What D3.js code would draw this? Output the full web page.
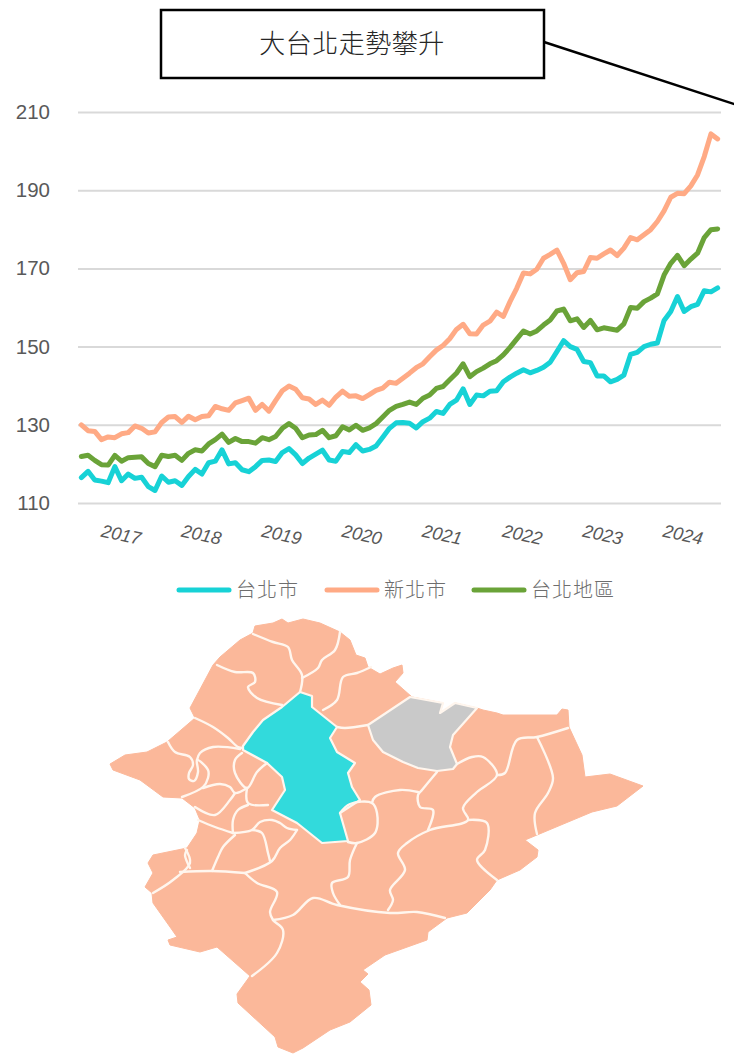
<!DOCTYPE html>
<html><head><meta charset="utf-8">
<script src="https://cdn.jsdelivr.net/npm/d3@7/dist/d3.min.js"></script>
<style>html,body{margin:0;padding:0;background:#fff}svg{display:block}</style></head><body>
<svg id="c" width="734" height="1054"></svg>
<script>
const years=["2017","2018","2019","2020","2021","2022","2023","2024"];
const months=d3.range(96);
const yTicks=[110,130,150,170,190,210];
const legendNames=["台北市","新北市","台北地區"];
const titleText="大台北走勢攀升";
const taipei=[116.5,118.1,115.9,115.6,115.2,119.3,115.7,117.4,116.3,116.6,114.2,113.2,116.9,115.3,115.7,114.5,116.8,118.6,117.4,120.3,120.7,123.6,120,120.3,118.5,118,119.3,120.9,121,120.6,122.9,123.9,122.3,120.1,121.5,122.5,123.5,121,120.7,123.2,122.9,124.9,123.3,123.7,124.6,126.8,129.1,130.5,
130.6,130.4,129.2,130.8,131.7,133.4,132.9,135.2,136.3,139.2,135.2,137.6,137.4,138.6,138.7,141,142.2,143.2,144.1,143.3,143.9,144.7,146,148.7,151.5,150,149.3,146.2,145.9,142.5,142.5,141,141.6,142.7,148,148.5,150,150.6,150.9,156.7,159,162.8,159,160.2,160.8,164.3,164,165];
const newTaipei=[130,128.5,128.3,126.2,126.9,126.7,127.7,128,129.7,129.1,127.9,128.2,130.6,132,132.1,130.6,132.2,131.3,132.1,132.3,134.7,134.1,133.7,135.6,136.2,136.8,133.7,135.2,133.5,136.2,138.7,139.9,139.1,136.9,136.6,135.2,136.3,135,137.1,138.6,137.3,137.4,136.7,137.7,138.8,139.4,140.9,140.6,
141.9,143.2,144.6,145.6,147.4,149.1,150.3,152,154.4,155.7,153.3,153.2,155.5,156.5,158.8,157.7,161.5,164.9,168.8,168.6,169.8,172.6,173.6,174.7,171.3,167.1,168.9,169.2,172.8,172.6,173.7,174.7,173.3,175.2,177.9,177.3,178.6,179.9,182,184.7,188.2,189.2,189.1,191.1,193.9,198.6,204.4,203.1];
const greater=[121.9,122.2,120.9,119.8,119.7,122.2,120.7,121.6,121.7,121.8,120.1,119.3,122.2,121.9,122.2,120.9,122.7,123.6,123.3,125.1,126.2,127.6,125.5,126.5,125.7,125.7,125.3,126.7,126.2,127,129.1,130.3,129.1,126.7,127.4,127.5,128.6,126.7,127.2,129.5,128.7,129.9,128.6,129.2,130.3,132,133.7,134.7,
135.2,135.8,135.2,136.8,137.6,139.3,139.8,141.5,143.2,145.6,142.3,143.6,144.5,145.6,146.4,147.9,149.8,151.9,154,153.2,154,155.5,156.8,159.1,159.6,156.6,157.1,154.9,156.7,154.3,154.8,154.5,154.2,155.8,160,159.8,161.5,162.4,163.5,168.3,171.3,173.3,170.7,172.4,173.9,177.9,179.9,180.1];
const seriesColors=["#17D2D6","#FFAA85","#6AA338"];

// map geometry, traced in picture units
const mapOutline=[[110,764],[125,755],[147,752],[167,742],[195,718],[190,708],[213,665],[220,657],[240,640],[253,633],[255,626],[273,623],[282,619],[288,623],[303,619],[320,623],[340,632],[350,640],[356,655],[365,658],[368,667],[380,674],[393,668],[402,665],[403,673],[395,682],[412,697],[443,703],[440,713],[455,703],[477,708],[483,710],[497,713],[503,715],[540,715],[557,715],[562,709],[568,710],[569,727],[582,755],[585,777],[610,774],[643,786],[617,806],[592,812],[537,835],[525,840],[538,850],[537,857],[520,870],[497,880],[490,890],[467,913],[447,918],[428,932],[427,940],[385,955],[363,970],[368,974],[360,982],[369,990],[371,1005],[350,1022],[330,1030],[303,1048],[293,1053],[278,1047],[275,1037],[238,1003],[237,994],[250,976],[217,947],[200,952],[170,945],[168,940],[177,937],[170,927],[153,903],[152,893],[145,887],[153,873],[148,863],[153,855],[187,848],[197,833],[200,820],[195,808],[182,798],[163,797],[140,780],[113,770]];
const mapTaipei=[[300,692],[312,696],[312,707],[337,727],[330,738],[337,752],[355,763],[348,773],[352,787],[360,800],[340,813],[348,841],[322,843],[297,823],[272,810],[285,790],[282,777],[267,763],[243,750],[243,746],[253,732],[263,720],[282,707]];
const mapKeelung=[[368,725],[410,697],[443,703],[440,713],[455,703],[477,708],[453,735],[450,747],[457,764],[453,769],[437,771],[418,768],[403,762],[383,752],[373,740]];
const mapBorders=[
[[253,634],[273,642],[288,647],[292,660],[302,675],[300,692]],
[[340,632],[335,650],[322,660],[318,668],[302,678]],
[[217,665],[235,672],[253,673],[255,682],[248,687],[257,698],[282,705]],
[[371,667],[357,673],[343,677],[337,700],[323,710]],
[[368,725],[345,728],[337,727]],
[[195,718],[213,727],[228,738],[238,747],[243,748]],
[[168,742],[175,752],[190,757],[193,765],[189,773],[189,779],[194,781],[198,772],[197,760],[208,770],[208,778],[203,787],[182,797]],
[[197,760],[200,753],[213,747],[240,749]],
[[242,753],[235,760],[235,773],[247,788],[257,772],[267,763]],
[[203,788],[220,784],[230,787],[235,793],[247,788]],
[[235,793],[230,800],[215,815],[195,807]],
[[247,788],[248,803],[268,805]],
[[248,805],[238,810],[233,820],[233,833]],
[[198,820],[215,827],[233,833]],
[[233,833],[252,830],[260,822],[272,820],[280,823],[287,828],[297,830]],
[[297,830],[290,840],[280,848],[272,861],[245,873]],
[[252,830],[262,833],[268,853],[270,861]],
[[235,835],[223,847],[218,857],[212,871]],
[[187,850],[185,855],[190,868]],
[[437,772],[422,790],[418,795],[420,807],[433,810],[428,830]],
[[418,792],[400,790],[375,797],[372,803]],
[[340,813],[350,804],[372,803],[377,813],[375,833],[357,843],[348,842]],
[[457,764],[472,757],[483,757],[497,775],[477,792],[463,808],[468,820],[430,830],[407,843],[398,853],[405,870],[390,890],[393,900],[388,910]],
[[497,775],[505,773],[517,740],[537,737],[568,728]],
[[537,737],[553,778],[548,793],[535,813],[537,834]],
[[468,820],[487,823],[485,850],[477,860],[497,880]],
[[185,848],[190,863],[173,880],[153,893]],
[[180,872],[212,871],[245,873]],
[[245,873],[257,883],[277,892],[270,912],[273,920],[283,930],[277,953],[252,976]],
[[273,920],[293,915],[313,898],[337,905],[390,913],[417,912],[445,918]],
[[357,843],[350,860],[348,877],[332,883],[333,893],[340,905]]
];

const svg=d3.select("#c");
const fontLatin="'Liberation Sans',Arial,sans-serif";
const fontCJK="'Liberation Sans','Noto Sans CJK TC',sans-serif";
const x=d3.scaleBand().domain(months).range([78,721]);
const y=d3.scaleLinear().domain([110,210]).range([503,112]);
const xc=i=>x(i)+x.bandwidth()/2;

// gridlines and y axis
const gy=svg.append("g").attr("transform","translate(78,0)")
  .call(d3.axisLeft(y).tickValues(yTicks).tickSize(-643).tickPadding(28).tickFormat(d3.format("d")));
gy.select(".domain").remove();
gy.selectAll(".tick line").attr("stroke","#D9D9D9").attr("stroke-width",2);
gy.selectAll(".tick text").attr("fill","#595959").attr("font-family",fontLatin).attr("font-size",20.5).attr("dy","0.32em");

// year labels
const xYears=d3.scaleBand().domain(years).range([81,723]);
const gx=svg.append("g").attr("transform","translate(0,535)").call(d3.axisBottom(xYears).tickSize(0).tickPadding(0));
gx.select(".domain").remove();
gx.selectAll(".tick text").attr("fill","#595959").attr("font-family",fontLatin).attr("font-size",18)
  .attr("font-style","italic").attr("y",0).attr("dy","0.32em").attr("transform","rotate(12)");

// series
const line=d3.line().x((d,i)=>xc(i)).y(d=>y(d));
[taipei,newTaipei,greater].forEach((s,i)=>{
  svg.append("path").datum(s).attr("d",line).attr("fill","none").attr("stroke",seriesColors[i])
   .attr("stroke-width",5).attr("stroke-linejoin","round").attr("stroke-linecap","round");
});

// legend
const legendX=[177,325,472];
legendNames.forEach((n,i)=>{
  svg.append("line").attr("x1",legendX[i]+2).attr("x2",legendX[i]+52).attr("y1",590).attr("y2",590)
    .attr("stroke",seriesColors[i]).attr("stroke-width",5).attr("stroke-linecap","round");
  svg.append("text").attr("x",legendX[i]+59).attr("y",597).attr("fill","#6E6E6E").attr("font-family",fontCJK)
    .attr("font-weight",300).attr("font-size",20).attr("letter-spacing",1).text(n);
});

// callout
svg.append("line").attr("x1",544).attr("y1",42).attr("x2",740).attr("y2",106).attr("stroke","#000").attr("stroke-width",2.5);
svg.append("rect").attr("x",161).attr("y",10).attr("width",383).attr("height",68).attr("fill","#fff").attr("stroke","#000").attr("stroke-width",2.5);
svg.append("text").attr("x",352).attr("y",53).attr("text-anchor","middle").attr("fill","#262626").attr("font-family",fontCJK)
  .attr("font-weight",300).attr("font-size",26).attr("letter-spacing",0.5).text(titleText);

// map
const closed=d3.line().curve(d3.curveLinearClosed);
const open=d3.line().curve(d3.curveCatmullRom.alpha(0.5));
svg.append("defs").append("filter").attr("id","soft").append("feGaussianBlur").attr("stdDeviation",0.5);
const g=svg.append("g").attr("filter","url(#soft)");
g.append("path").attr("d",closed(mapOutline)).attr("fill","#FBB89A").attr("stroke","#FBB89A").attr("stroke-width",1).attr("stroke-linejoin","round");
g.append("path").attr("d",closed(mapTaipei)).attr("fill","#32DADC").attr("stroke","#FFF6EE").attr("stroke-width",2.2).attr("stroke-linejoin","round");
g.append("path").attr("d",closed(mapKeelung)).attr("fill","#C9C9C9").attr("stroke","#FFF6EE").attr("stroke-width",2.2).attr("stroke-linejoin","round");
g.selectAll(".b").data(mapBorders).join("path").attr("class","b").attr("d",d=>open(d)).attr("fill","none")
  .attr("stroke","#FFF6EE").attr("stroke-width",2.4).attr("stroke-linecap","round");
</script></body></html>
